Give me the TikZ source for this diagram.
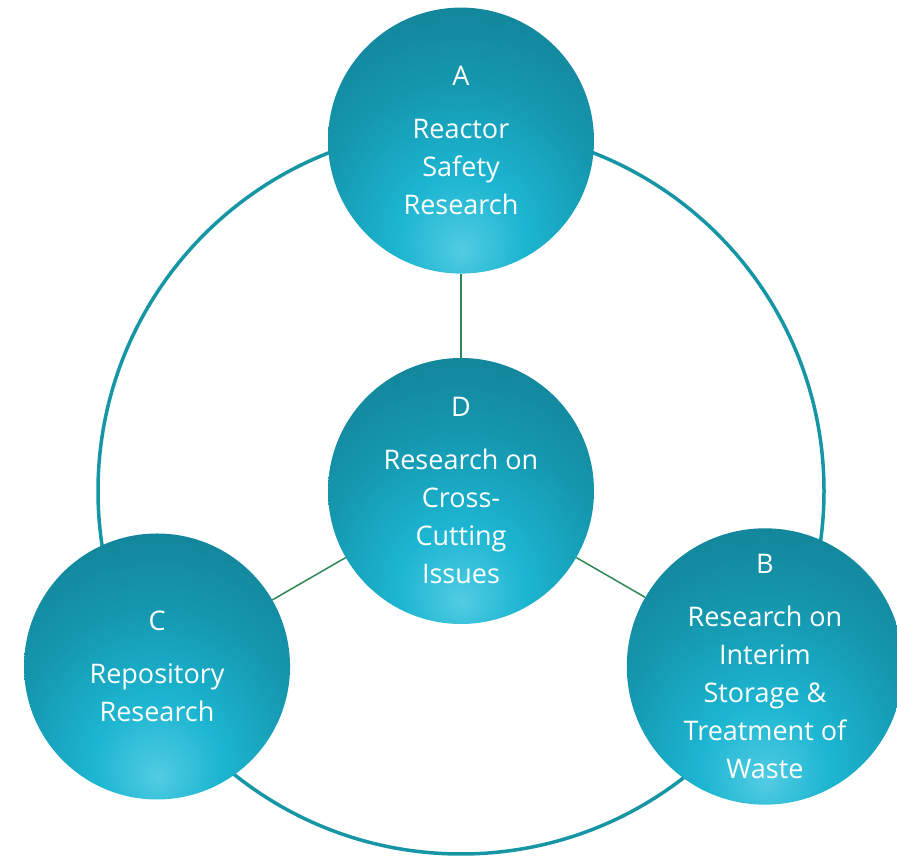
\documentclass[tikz,border=0pt]{standalone}
\usepackage{fontspec}
\setmainfont{Open Sans}
\usetikzlibrary{positioning,calc,backgrounds}

\definecolor{ringteal}{RGB}{22,150,165}
\definecolor{linkgreen}{RGB}{45,135,85}
\pgfdeclareradialshading{areashade}{\pgfpoint{0bp}{-21bp}}{%
  rgb(0bp)=(0.32,0.80,0.89);
  rgb(12bp)=(0.11,0.71,0.82);
  rgb(27bp)=(0.08,0.59,0.68);
  rgb(46bp)=(0.07,0.48,0.56);
  rgb(100bp)=(0.07,0.48,0.56)}

\begin{document}
\begin{tikzpicture}[
    % Research area
    area/.style={
        circle,
        shading=areashade,
        minimum size=266pt,
        inner sep=0pt,
        align=center,
        text=white,
        font=\fontsize{27}{38}\selectfont
    },
    % Outer ring
    ring/.style={
        draw=ringteal,
        line width=3.5pt
    },
    % Link to the centre
    link/.style={
        draw=linkgreen,
        line width=1.5pt
    }
]

\useasboundingbox (0,0) rectangle (897pt,864pt);

% Centre and outer areas
\node[area] (crosscut) at (461pt,373pt) {D\\[15pt]Research on\\Cross-\\Cutting\\Issues};
\node[area, above=84pt of crosscut] (reactor) {A\\[15pt]Reactor\\Safety\\Research};
\node[area] (storage) at ($(crosscut)+(-30:351pt)$) {B\\[15pt]Research on\\Interim\\Storage \&\\Treatment of\\Waste};
\node[area] (repository) at ($(crosscut)+(210:351pt)$) {C\\[15pt]Repository\\Research};

% Links
\draw[link] (crosscut) -- (reactor);
\draw[link] (crosscut) -- (storage);
\draw[link] (crosscut) -- (repository);

% Ring
\begin{scope}[on background layer]
    \draw[ring] (crosscut.center) circle (363pt);
\end{scope}

\end{tikzpicture}
\end{document}
